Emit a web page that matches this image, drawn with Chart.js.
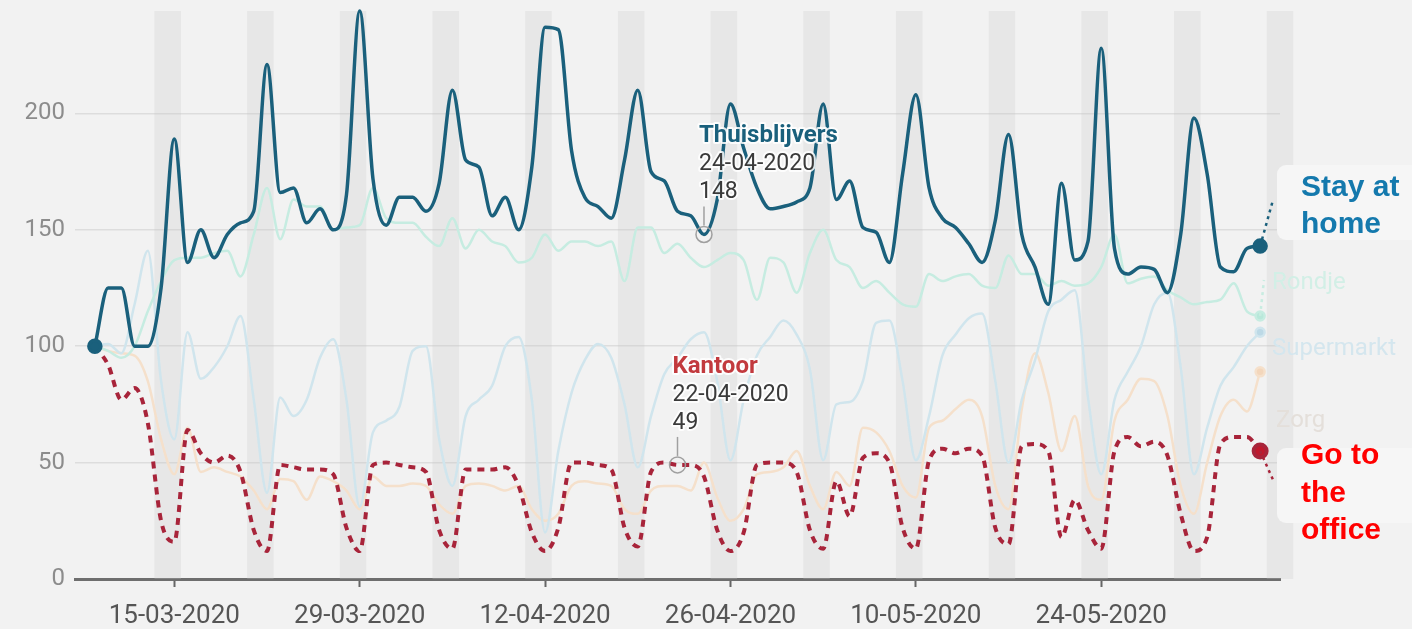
<!DOCTYPE html>
<html>
<head>
<meta charset="utf-8">
<script src="https://cdn.jsdelivr.net/npm/chart.js@4.4.1/dist/chart.umd.min.js"></script>
<style>
  html, body { margin: 0; padding: 0; background: #f2f2f2; }
  #wrap { width: 1412px; height: 629px; position: relative; }
</style>
</head>
<body>
<div id="wrap"><canvas id="chart" width="1412" height="629"></canvas></div>
<script>
// days from 09-03-2020 to 05-06-2020
const dayCount = 89;
const dates = [];
for (let i = 0; i < dayCount; i++) {
  const d = new Date(2020, 2, 9 + i);
  dates.push(String(d.getDate()).padStart(2, '0') + '-' + String(d.getMonth() + 1).padStart(2, '0') + '-' + d.getFullYear());
}

const tickLabels = ['15-03-2020', '29-03-2020', '12-04-2020', '26-04-2020', '10-05-2020', '24-05-2020'];
const yTicks = [0, 50, 100, 150, 200];

const thuisblijvers = [100, 125, 125, 100, 100, 125, 189, 136, 150, 138, 148, 153, 158, 221, 166, 168, 153, 159, 150, 165,
  244, 172, 152, 164, 164, 158, 170, 210, 180, 177, 156, 164, 150, 177, 237, 236, 184, 164, 160, 155,
  180, 210, 175, 171, 158, 156, 148, 163, 204, 185, 168, 159, 160, 162, 168, 204, 163, 171, 151, 149,
  136, 174, 208, 168, 155, 151, 144, 136, 154, 191, 148, 134, 118, 170, 137, 145, 228, 142, 131, 134,
  133, 123, 148, 198, 174, 134, 132, 142, 143];

const kantoor = [100, 92, 77, 82, 67, 25, 16, 64, 54, 50, 53, 46, 21, 12, 49, 48, 47, 47, 45, 22,
  12, 49, 50, 49, 48, 46, 21, 13, 47, 47, 47, 48, 40, 20, 12, 22, 50, 50, 49, 47,
  22, 14, 46, 50, 49, 49, 44, 21, 12, 20, 49, 50, 50, 46, 21, 13, 42, 27, 52, 54,
  50, 22, 13, 51, 56, 54, 56, 53, 22, 15, 57, 58, 55, 18, 34, 21, 13, 55, 61, 57,
  59, 53, 28, 12, 18, 58, 61, 61, 55];

const rondje = [100, 98, 95, 100, 115, 128, 137, 138, 138, 140, 141, 130, 148, 168, 146, 163, 160, 160, 150, 151,
  152, 168, 155, 153, 153, 147, 143, 155, 142, 150, 145, 143, 136, 138, 148, 141, 145, 145, 143, 145,
  128, 151, 151, 140, 144, 138, 134, 137, 140, 137, 120, 138, 136, 123, 140, 150, 137, 134, 125, 128,
  123, 118, 117, 131, 128, 130, 131, 126, 125, 139, 131, 131, 126, 128, 126, 127, 134, 148, 127, 129,
  130, 124, 121, 118, 119, 120, 127, 115, 113];

const supermarkt = [100, 101, 97, 118, 141, 85, 60, 106, 86, 91, 100, 113, 77, 37, 78, 70, 77, 95, 103, 77,
  31, 63, 68, 74, 98, 100, 60, 40, 70, 77, 83, 100, 104, 77, 20, 55, 80, 94, 101, 95,
  75, 48, 70, 88, 95, 103, 106, 85, 51, 77, 96, 104, 111, 105, 90, 51, 75, 76, 85, 110,
  111, 85, 51, 70, 96, 105, 112, 114, 85, 50, 77, 94, 115, 120, 124, 78, 45, 77, 89, 100,
  118, 123, 91, 45, 65, 83, 91, 100, 106];

const zorg = [100, 98, 97, 96, 85, 60, 45, 65, 46, 48, 46, 44, 38, 30, 43, 42, 34, 44, 42, 38,
  30, 44, 40, 40, 41, 40, 32, 28, 40, 41, 40, 38, 40, 30, 25, 28, 40, 42, 41, 40,
  30, 28, 38, 40, 40, 38, 50, 35, 25, 30, 45, 46, 48, 55, 40, 30, 46, 40, 65, 63,
  55, 40, 35, 65, 68, 73, 77, 70, 40, 30, 73, 97, 80, 55, 70, 40, 34, 68, 77, 86,
  85, 70, 40, 28, 50, 70, 77, 72, 89];

const highlights = [
  { series: 'Thuisblijvers', date: '24-04-2020' },
  { series: 'Kantoor', date: '22-04-2020' }
];

const toXY = arr => arr.map((v, i) => ({ x: i, y: v }));
const last = dayCount - 1;
const endDots = r => ctx => (ctx.dataIndex === 0 || ctx.dataIndex === last) ? r : 0;
const lastDot = r => ctx => ctx.dataIndex === last ? r : 0;

const BLUE = '#1a607c';
const RED = '#a8243a';

const bandsPlugin = {
  id: 'bands',
  beforeDatasetsDraw(chart) {
    const { ctx, chartArea, scales: { x } } = chart;
    ctx.save();
    ctx.fillStyle = 'rgba(200,200,200,0.25)';
    for (let i = 0; i <= dayCount + 1; i++) {
      const d = new Date(2020, 2, 9 + i);
      if (d.getDay() !== 6) continue;
      const x0 = x.getPixelForValue(i - 0.5);
      const x1 = x.getPixelForValue(i + 1.5);
      ctx.fillRect(x0, chartArea.top, x1 - x0, chartArea.bottom - chartArea.top);
    }
    ctx.restore();
  }
};

const notesPlugin = {
  id: 'notes',
  afterDatasetsDraw(chart) {
    const { ctx, scales: { x, y } } = chart;
    ctx.save();

    // hover style markers
    highlights.forEach(h => {
      const ds = chart.data.datasets.find(d => d.label === h.series);
      const idx = dates.indexOf(h.date);
      const px = x.getPixelForValue(idx);
      const py = y.getPixelForValue(ds.data[idx].y);
      ctx.strokeStyle = '#a0a0a0';
      ctx.lineWidth = 1.5;
      ctx.beginPath();
      ctx.arc(px, py, 8, 0, Math.PI * 2);
      ctx.stroke();
      ctx.beginPath();
      ctx.moveTo(px, py - 9);
      ctx.lineTo(px, py - 28);
      ctx.stroke();
      const lines = [
        { t: h.series, c: h.series === 'Kantoor' ? '#c23a3e' : BLUE, f: 'bold 24px Roboto', dy: -92 },
        { t: h.date, c: '#3a3a3a', f: '23px Roboto', dy: -64 },
        { t: String(ds.data[idx].y), c: '#3a3a3a', f: '23px Roboto', dy: -36 }
      ];
      ctx.textAlign = 'left';
      ctx.textBaseline = 'alphabetic';
      lines.forEach(l => {
        ctx.font = l.f;
        ctx.lineJoin = 'round';
        ctx.strokeStyle = 'rgba(255,255,255,0.85)';
        ctx.lineWidth = 4;
        ctx.strokeText(l.t, px - 5, py + l.dy);
        ctx.fillStyle = l.c;
        ctx.fillText(l.t, px - 5, py + l.dy);
      });
    });

    // dotted connectors to right labels
    const connect = (name, tx, ty, color) => {
      const ds = chart.data.datasets.find(d => d.label === name);
      const px = x.getPixelForValue(last);
      const py = y.getPixelForValue(ds.data[last].y);
      ctx.strokeStyle = color;
      ctx.lineWidth = 2.5;
      ctx.setLineDash([3, 4]);
      ctx.beginPath();
      ctx.moveTo(px, py);
      ctx.lineTo(tx, ty);
      ctx.stroke();
      ctx.setLineDash([]);
    };
    connect('Thuisblijvers', 1273, 200, BLUE);
    connect('Rondje', 1264, 280, '#c8ece1');
    connect('Kantoor', 1274, 482, RED);

    // faint series labels
    ctx.font = '24px Roboto';
    ctx.textBaseline = 'alphabetic';
    ctx.fillStyle = '#d2efe6';
    ctx.fillText('Rondje', 1272, 289);
    ctx.fillStyle = '#d4e6ee';
    ctx.fillText('Supermarkt', 1272, 355);
    ctx.fillStyle = '#e4dfda';
    ctx.fillText('Zorg', 1276, 427);

    // boxed labels
    const box = (y0, y1) => {
      ctx.fillStyle = '#f6f6f6';
      ctx.beginPath();
      ctx.roundRect(1277, y0, 160, y1 - y0, 9);
      ctx.fill();
    };
    box(165, 240);
    box(448, 523);
    ctx.font = 'bold 30px "Liberation Sans", Arial, sans-serif';
    ctx.fillStyle = '#1479ad';
    ctx.fillText('Stay at', 1301, 196);
    ctx.fillText('home', 1301, 233);
    ctx.fillStyle = '#ff0000';
    ctx.fillText('Go to', 1301, 464);
    ctx.fillText('the', 1301, 502);
    ctx.fillText('office', 1301, 539);

    ctx.restore();
  }
};

new Chart(document.getElementById('chart'), {
  type: 'line',
  data: {
    datasets: [
      { label: 'Thuisblijvers', data: toXY(thuisblijvers), borderColor: BLUE, backgroundColor: BLUE,
        borderWidth: 3.5, pointRadius: endDots(6), cubicInterpolationMode: 'monotone' },
      { label: 'Kantoor', data: toXY(kantoor), borderColor: RED, backgroundColor: '#c0182c',
        borderWidth: 4, borderDash: [7, 6], pointRadius: lastDot(6.5), cubicInterpolationMode: 'monotone' },
      { label: 'Rondje', data: toXY(rondje), borderColor: '#c6ece1', backgroundColor: '#b8e8da',
        borderWidth: 2.5, pointRadius: lastDot(4.5), cubicInterpolationMode: 'monotone' },
      { label: 'Supermarkt', data: toXY(supermarkt), borderColor: '#d0e5ed', backgroundColor: '#bcd9e6',
        borderWidth: 2.5, pointRadius: lastDot(4.5), cubicInterpolationMode: 'monotone' },
      { label: 'Zorg', data: toXY(zorg), borderColor: '#f5e0cb', backgroundColor: '#f3d6bb',
        borderWidth: 2.5, pointRadius: lastDot(4.5), cubicInterpolationMode: 'monotone' }
    ]
  },
  options: {
    responsive: false,
    animation: false,
    events: [],
    clip: false,
    layout: { padding: { top: 11, right: 132, left: 0, bottom: 0 } },
    plugins: { legend: { display: false }, tooltip: { enabled: false } },
    scales: {
      x: {
        type: 'linear',
        min: -1.5,
        max: dayCount + 0.5,
        afterFit: s => { s.height = 50; },
        afterBuildTicks: s => { s.ticks = tickLabels.map(t => ({ value: dates.indexOf(t) })); },
        ticks: {
          callback: v => dates[v],
          maxRotation: 0,
          autoSkip: false,
          padding: 14,
          color: '#555',
          font: { family: 'Roboto', size: 26 }
        },
        grid: { drawOnChartArea: false, drawTicks: true, tickLength: 8, tickColor: '#666', tickWidth: 2 },
        border: { display: true, color: '#6e6e6e', width: 3 }
      },
      y: {
        min: 0,
        max: 244,
        afterFit: s => { s.width = 75; s.paddingTop = 0; s.paddingBottom = 0; },
        afterBuildTicks: s => { s.ticks = yTicks.map(v => ({ value: v })); },
        ticks: { padding: 10, color: '#8c8c8c', font: { family: 'Roboto', size: 24 } },
        grid: { drawTicks: false, color: c => c.tick && c.tick.value === 0 ? 'rgba(0,0,0,0)' : '#dddddd', lineWidth: 1.5 },
        border: { display: false }
      }
    }
  },
  plugins: [bandsPlugin, notesPlugin]
});
</script>
</body>
</html>
